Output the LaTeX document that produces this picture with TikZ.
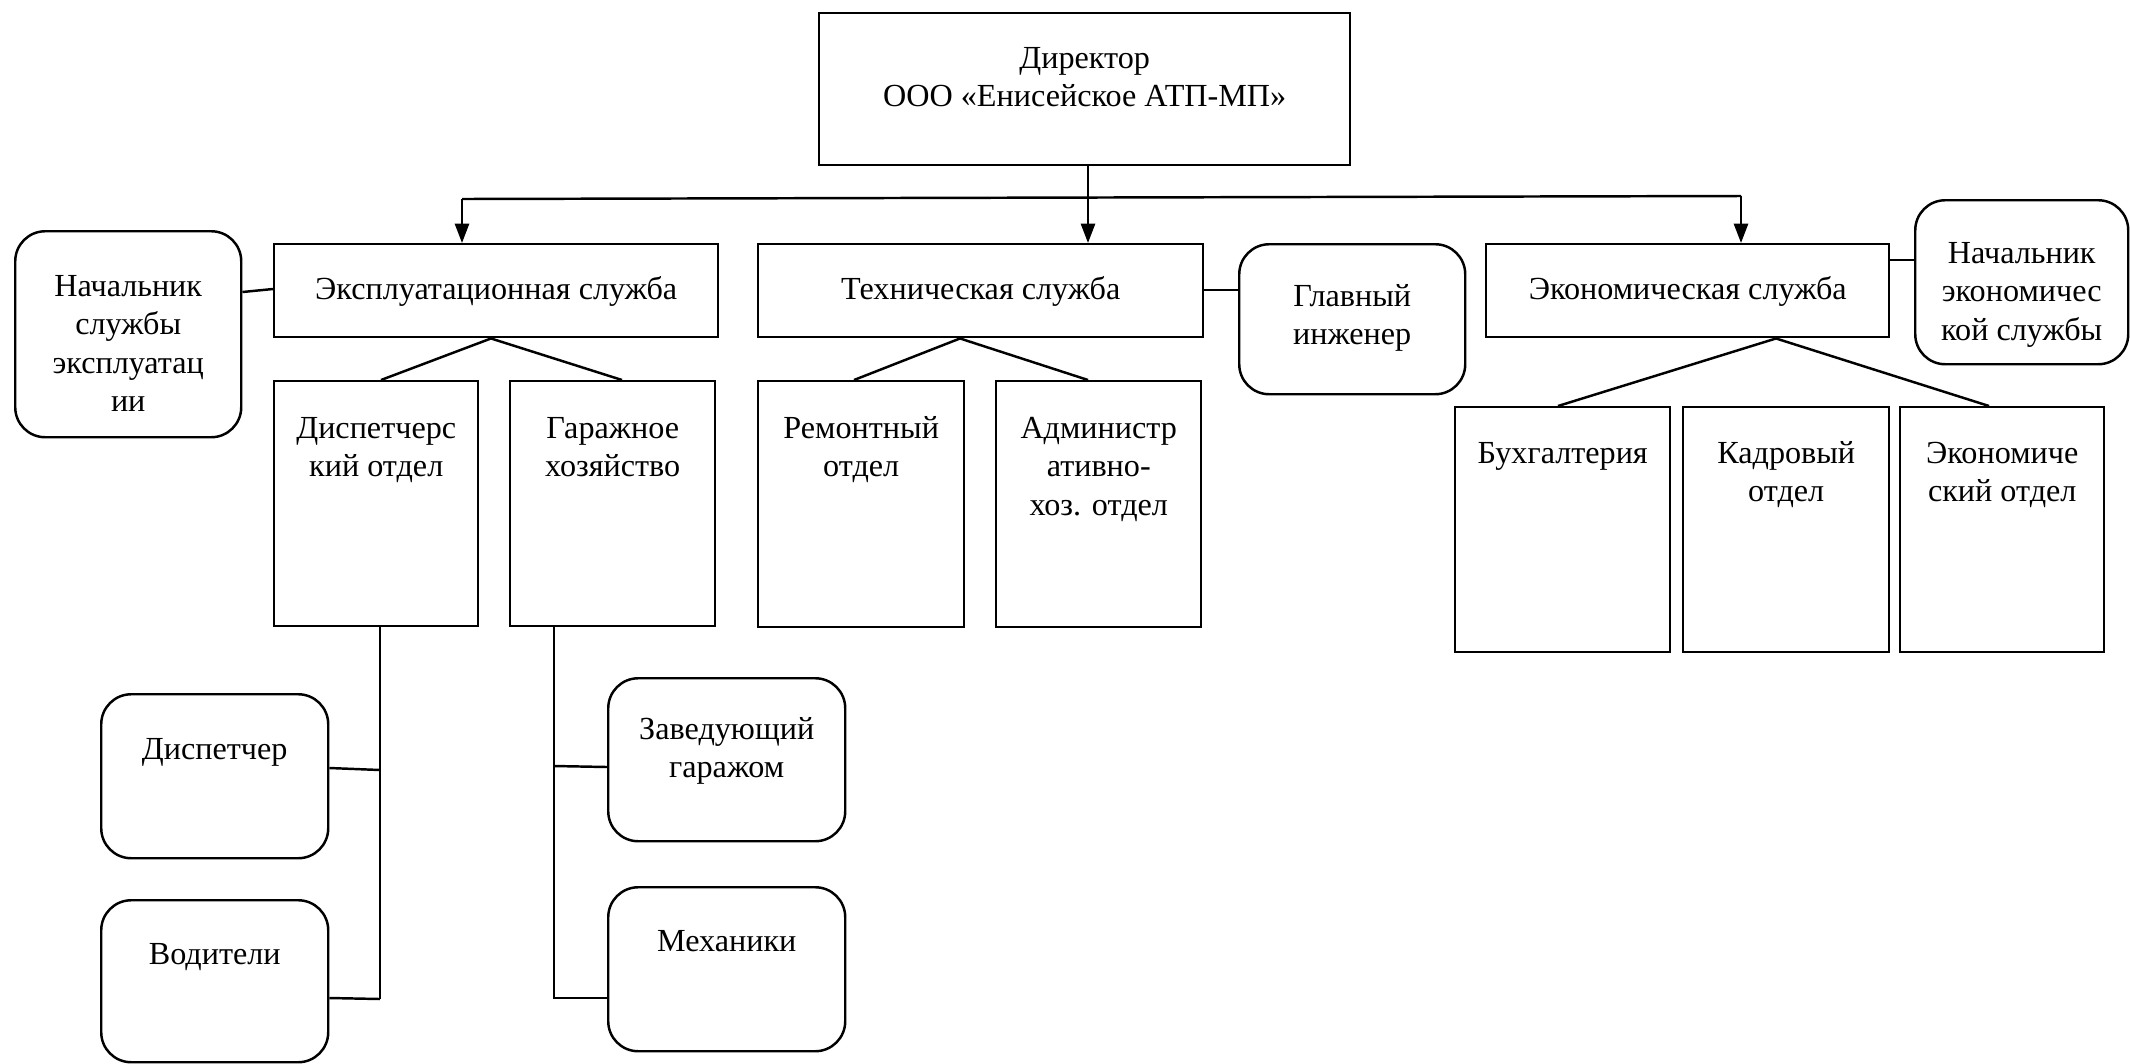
\documentclass[tikz,border=0pt]{standalone}
\usepackage{fontspec}
\setmainfont{Liberation Serif}
\usetikzlibrary{arrows.meta}
\newlength\pxu
\setlength\pxu{0.01cm}
\newcommand\bxtext[4]{\parbox[t][#2\pxu][t]{#1\pxu}{\centering\vspace*{#3\pxu}\strut #4\par}}
\begin{document}
\begin{tikzpicture}[x=0.01cm,y=-0.01cm, line width=0.7pt,
  box/.style={draw, inner sep=0pt, anchor=north west, font=\fontsize{9.15}{10.95}\selectfont},
  rbox/.style={box, rounded corners=0.3cm},
  arr/.style={-{Triangle[length=5.5pt,width=4pt]}}]
\useasboundingbox (0,0) rectangle (2130,1063);

% top
\node[box] (dir) at (818,12) {\bxtext{531}{152}{28}{Директор\\ООО «Енисейское АТП-МП»}};

% services
\node[box] (expl) at (273,243) {\bxtext{444}{93}{28}{Эксплуатационная служба}};
\node[box] (tech) at (757,243) {\bxtext{445}{93}{28}{Техническая служба}};
\node[box] (econ) at (1485,243) {\bxtext{403}{93}{28}{Экономическая служба}};

% heads
\node[rbox] (nach1) at (14,230) {\bxtext{226}{206}{38}{Начальник\\службы\\эксплуатац\\ии}};
\node[rbox] (glav) at (1238,243) {\bxtext{226}{150}{35}{Главный\\инженер}};
\node[rbox] (nach3) at (1914,199) {\bxtext{213}{164}{36}{Начальник\\экономичес\\кой службы}};

% departments
\node[box] (disp) at (273,380) {\bxtext{204}{245}{30}{Диспетчерс\\кий отдел}};
\node[box] (gar) at (509,380) {\bxtext{205}{245}{30}{Гаражное\\хозяйство}};
\node[box] (rem) at (757,380) {\bxtext{206}{246}{30}{Ремонтный\\отдел}};
\node[box] (adm) at (995,380) {\bxtext{205}{246}{30}{Администр\\ативно-\\хоз. отдел}};
\node[box] (buh) at (1454,406) {\bxtext{215}{245}{29}{Бухгалтерия}};
\node[box] (kadr) at (1682,406) {\bxtext{206}{245}{29}{Кадровый\\отдел}};
\node[box] (ekot) at (1899,406) {\bxtext{204}{245}{29}{Экономиче\\ский отдел}};

% staff
\node[rbox] (dsp) at (100,693) {\bxtext{227}{164}{38}{Диспетчер}};
\node[rbox] (vod) at (100,899) {\bxtext{227}{162}{37}{Водители}};
\node[rbox] (zav) at (607,677) {\bxtext{237}{163}{34}{Заведующий\\гаражом}};
\node[rbox] (mech) at (607,886) {\bxtext{237}{164}{37}{Механики}};

% bus
\coordinate (b1) at (462,199);
\coordinate (b2) at (1088,198);
\coordinate (b3) at (1741,196);
\draw (dir.south -| b2) -- (b2);
\draw (b1) -- (b3);
\draw[arr] (b1) -- (b1 |- expl.north);
\draw[arr] (b2) -- (b2 |- tech.north);
\draw[arr] (b3) -- (b3 |- econ.north);

% side links
\draw (nach1.east |- 0,292) -- (expl.west |- 0,289);
\draw (tech.east |- 0,290) -- (glav.west |- 0,290);
\draw (econ.east |- 0,260) -- (nach3.west |- 0,260);

% trees
\draw (disp.north -| 381,0) -- (expl.south -| 491,0) -- (gar.north -| 622,0);
\draw (rem.north -| 854,0) -- (tech.south -| 960,0) -- (adm.north -| 1088,0);
\draw (buh.north -| 1558,0) -- (econ.south -| 1776,0) -- (ekot.north -| 1989,0);

% lower branches
\coordinate (t1) at (380,999);
\coordinate (t2) at (554,998);
\draw (disp.south -| t1) -- (t1);
\draw (dsp.east |- 0,768) -- (t1 |- 0,770);
\draw (vod.east |- 0,998) -- (t1);
\draw (gar.south -| t2) -- (t2) -- (mech.west |- t2);
\draw (t2 |- 0,766) -- (zav.west |- 0,767);
\end{tikzpicture}
\end{document}
